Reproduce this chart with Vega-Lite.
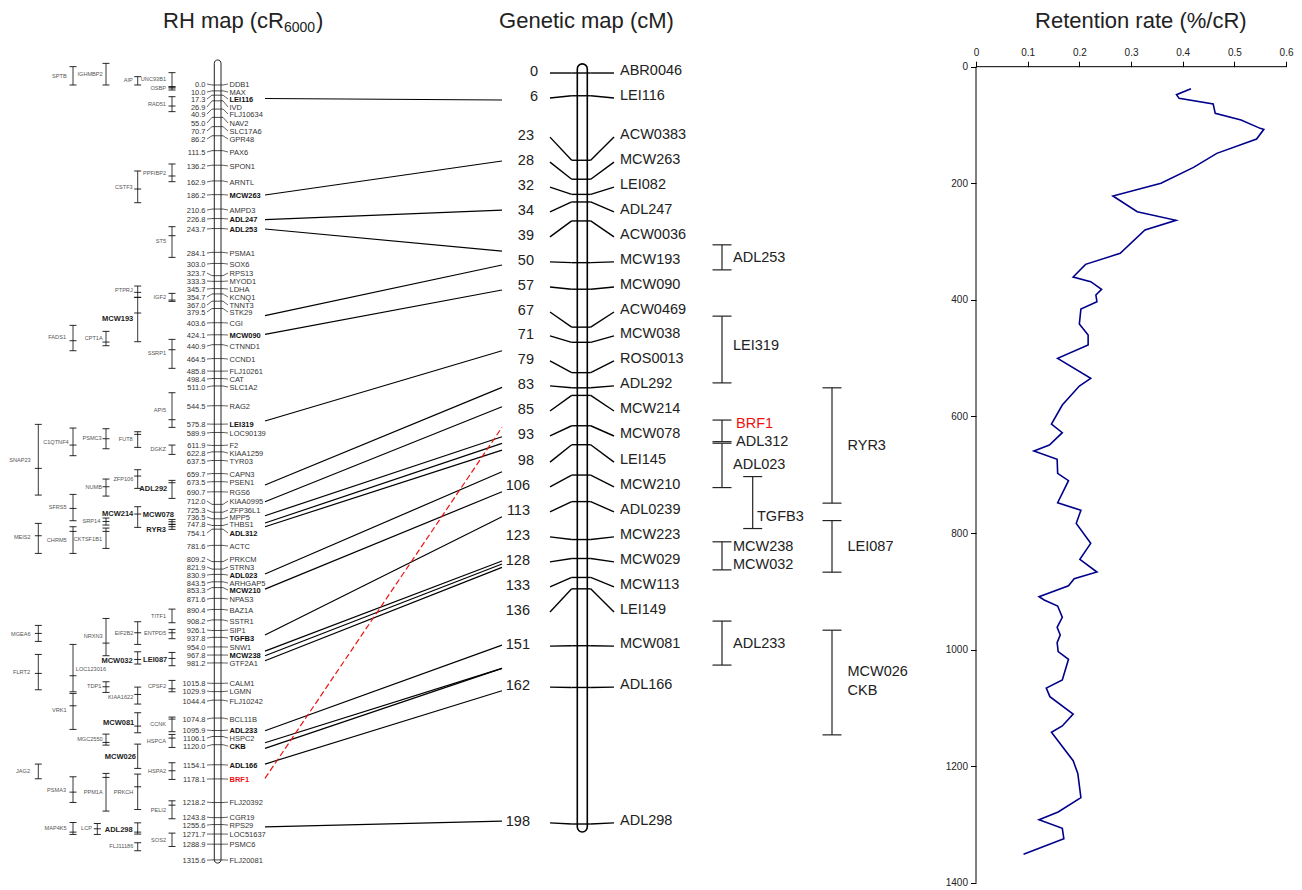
{"$schema":"https://vega.github.io/schema/vega-lite/v6.json","width":1302,"height":890,"padding":0,"autosize":{"type":"none"},"background":"white",
"config":{"view":{"stroke":null},"text":{"font":"Liberation Sans","baseline":"middle"}},
"datasets":{
"rhChromosome":[{"map":"RH","left":214.3,"right":221,"top":-42.5,"bottom":1321}],
"geneticChromosome":[{"map":"Genetic","left":577.3,"right":587.3,"top":-2.4,"bottom":200.1}],
"rhMarkers":[
{"cR":0.0,"name":"DDB1","labelPos":-1.7,"kind":"gene"},{"cR":10.0,"name":"MAX","labelPos":11.9,"kind":"gene"},{"cR":17.3,"name":"LEI116","labelPos":23.8,"kind":"marker"},{"cR":26.9,"name":"IVD","labelPos":37.4,"kind":"gene"},{"cR":40.9,"name":"FLJ10634","labelPos":49.2,"kind":"gene"},{"cR":55.0,"name":"NAV2","labelPos":64.5,"kind":"gene"},{"cR":70.7,"name":"SLC17A6","labelPos":78.1,"kind":"gene"},{"cR":86.2,"name":"GPR48","labelPos":91.7,"kind":"gene"},{"cR":111.5,"name":"PAX6","labelPos":113.8,"kind":"gene"},{"cR":136.2,"name":"SPON1","labelPos":137.5,"kind":"gene"},{"cR":162.9,"name":"ARNTL","labelPos":164.7,"kind":"gene"},{"cR":186.2,"name":"MCW263","labelPos":186.8,"kind":"marker"},{"cR":210.6,"name":"AMPD3","labelPos":212.3,"kind":"gene"},{"cR":226.8,"name":"ADL247","labelPos":227.5,"kind":"marker"},{"cR":243.7,"name":"ADL253","labelPos":244.5,"kind":"marker"},{"cR":284.1,"name":"PSMA1","labelPos":285.3,"kind":"gene"},{"cR":303.0,"name":"SOX6","labelPos":304,"kind":"gene"},{"cR":323.7,"name":"RPS13","labelPos":319.2,"kind":"gene"},{"cR":333.3,"name":"MYOD1","labelPos":332.8,"kind":"gene"},{"cR":345.7,"name":"LDHA","labelPos":346.4,"kind":"gene"},{"cR":354.7,"name":"KCNQ1","labelPos":360,"kind":"gene"},{"cR":367.0,"name":"TNNT3","labelPos":373.6,"kind":"gene"},{"cR":379.5,"name":"STK29","labelPos":385.4,"kind":"gene"},{"cR":403.6,"name":"CGI","labelPos":404.1,"kind":"gene"},{"cR":424.1,"name":"MCW090","labelPos":424.5,"kind":"marker"},{"cR":440.9,"name":"CTNND1","labelPos":443.2,"kind":"gene"},{"cR":464.5,"name":"CCND1","labelPos":465.3,"kind":"gene"},{"cR":485.8,"name":"FLJ10261","labelPos":485.6,"kind":"gene"},{"cR":498.4,"name":"CAT","labelPos":499.2,"kind":"gene"},{"cR":511.0,"name":"SLC1A2","labelPos":512.8,"kind":"gene"},{"cR":544.5,"name":"RAG2","labelPos":545,"kind":"gene"},{"cR":575.8,"name":"LEI319","labelPos":575.6,"kind":"marker"},{"cR":589.9,"name":"LOC90139","labelPos":590.9,"kind":"gene"},{"cR":611.9,"name":"F2","labelPos":611.3,"kind":"gene"},{"cR":622.8,"name":"KIAA1259","labelPos":624.9,"kind":"gene"},{"cR":637.5,"name":"TYR03","labelPos":638.4,"kind":"gene"},{"cR":659.7,"name":"CAPN3","labelPos":660.5,"kind":"gene"},{"cR":673.5,"name":"PSEN1","labelPos":674.1,"kind":"gene"},{"cR":690.7,"name":"RGS6","labelPos":691.1,"kind":"gene"},{"cR":712.0,"name":"KIAA0995","labelPos":706.4,"kind":"gene"},{"cR":725.3,"name":"ZFP36L1","labelPos":721.7,"kind":"gene"},{"cR":736.5,"name":"MPP5","labelPos":733.5,"kind":"gene"},{"cR":747.8,"name":"THBS1","labelPos":745.4,"kind":"gene"},{"cR":754.1,"name":"ADL312","labelPos":760.7,"kind":"marker"},{"cR":781.6,"name":"ACTC","labelPos":782.8,"kind":"gene"},{"cR":809.2,"name":"PRKCM","labelPos":804.9,"kind":"gene"},{"cR":821.9,"name":"STRN3","labelPos":818.4,"kind":"gene"},{"cR":830.9,"name":"ADL023","labelPos":832,"kind":"marker"},{"cR":843.5,"name":"ARHGAP5","labelPos":845.6,"kind":"gene"},{"cR":853.3,"name":"MCW210","labelPos":857.5,"kind":"marker"},{"cR":871.6,"name":"NPAS3","labelPos":872.8,"kind":"gene"},{"cR":890.4,"name":"BAZ1A","labelPos":891.5,"kind":"gene"},{"cR":908.2,"name":"SSTR1","labelPos":910.1,"kind":"gene"},{"cR":926.1,"name":"SIP1","labelPos":925.4,"kind":"gene"},{"cR":937.8,"name":"TGFB3","labelPos":939,"kind":"marker"},{"cR":954.0,"name":"SNW1","labelPos":954.3,"kind":"gene"},{"cR":967.8,"name":"MCW238","labelPos":967.9,"kind":"marker"},{"cR":981.2,"name":"GTF2A1","labelPos":981.4,"kind":"gene"},{"cR":1015.8,"name":"CALM1","labelPos":1015.4,"kind":"gene"},{"cR":1029.9,"name":"LGMN","labelPos":1029,"kind":"gene"},{"cR":1044.4,"name":"FLJ10242","labelPos":1046,"kind":"gene"},{"cR":1074.8,"name":"BCL11B","labelPos":1076.5,"kind":"gene"},{"cR":1095.9,"name":"ADL233","labelPos":1095.2,"kind":"marker"},{"cR":1106.1,"name":"HSPC2","labelPos":1108.8,"kind":"gene"},{"cR":1120.0,"name":"CKB","labelPos":1122.4,"kind":"marker"},{"cR":1154.1,"name":"ADL166","labelPos":1154.6,"kind":"marker"},{"cR":1178.1,"name":"BRF1","labelPos":1178.4,"kind":"candidate"},{"cR":1218.2,"name":"FLJ20392","labelPos":1217.5,"kind":"gene"},{"cR":1243.8,"name":"CGR19","labelPos":1243,"kind":"gene"},{"cR":1255.6,"name":"RPS29","labelPos":1256.5,"kind":"gene"},{"cR":1271.7,"name":"LOC51637","labelPos":1271.8,"kind":"gene"},{"cR":1288.9,"name":"PSMC6","labelPos":1288.8,"kind":"gene"},{"cR":1315.6,"name":"FLJ20081","labelPos":1316,"kind":"gene"}],
"rhGenes":[
{"gene":"SPTB","track":73,"start":-31.1,"end":0,"labelAt":66.7,"labelPos":-15.3,"kind":"gene"},
{"gene":"IGHMBP2","track":106,"start":-36.8,"end":0,"labelAt":102.7,"labelPos":-18.7,"kind":"gene"},
{"gene":"AIP","track":137.7,"start":-14.1,"end":0,"labelAt":132.7,"labelPos":-8.5,"kind":"gene"},
{"gene":"UNC93B1","track":172,"start":-20.9,"end":3.4,"labelAt":166,"labelPos":-10.2,"kind":"gene"},
{"gene":"OSBP","track":172,"start":2.9,"mid":5.1,"end":8.5,"labelAt":166,"labelPos":5.1,"kind":"gene"},
{"gene":"RAD51","track":172,"start":19.9,"mid":35.7,"end":45.3,"labelAt":166,"labelPos":31.8,"kind":"gene"},
{"gene":"PPFIBP2","track":172,"start":134.1,"mid":154.5,"end":164.2,"labelAt":166,"labelPos":148.9,"kind":"gene"},
{"gene":"CSTF3","track":137.7,"start":146,"mid":176.6,"end":199.9,"labelAt":132.7,"labelPos":173.2,"kind":"gene"},
{"gene":"ST5","track":172,"start":240.6,"mid":255.9,"end":292.6,"labelAt":166,"labelPos":264.9,"kind":"gene"},
{"gene":"PTPRJ","track":137.7,"start":341.3,"mid":352,"end":360.5,"labelAt":132.7,"labelPos":348.1,"kind":"gene"},
{"gene":"MCW193","track":137.7,"start":360.5,"mid":387.1,"end":435.9,"labelAt":133.3,"labelPos":397.8,"kind":"marker"},
{"gene":"IGF2","track":172,"start":353.7,"mid":365.1,"end":367.3,"labelAt":166,"labelPos":360,"kind":"gene"},
{"gene":"FADS1","track":73,"start":408,"mid":434.2,"end":451.2,"labelAt":66,"labelPos":427.9,"kind":"gene"},
{"gene":"CPT1A","track":106,"start":418.2,"mid":436.4,"end":442.7,"labelAt":102.7,"labelPos":429.6,"kind":"gene"},
{"gene":"SSRP1","track":172,"start":431.8,"mid":449.5,"end":481,"labelAt":166,"labelPos":455,"kind":"gene"},
{"gene":"API5","track":172,"start":522.5,"mid":568.3,"end":581.2,"labelAt":166,"labelPos":551.9,"kind":"gene"},
{"gene":"SNAP23","track":38.3,"start":576.1,"mid":650.8,"end":696.2,"labelAt":30.7,"labelPos":636.8,"kind":"gene"},
{"gene":"C1QTNF4","track":73,"start":582.4,"mid":611.3,"end":629.4,"labelAt":68.7,"labelPos":606.2,"kind":"gene"},
{"gene":"PSMC3","track":106,"start":583.6,"mid":600.6,"end":617.6,"labelAt":101.7,"labelPos":599.4,"kind":"gene"},
{"gene":"FUT8","track":137.7,"start":588.7,"mid":593.1,"end":615.2,"labelAt":132.7,"labelPos":601.1,"kind":"gene"},
{"gene":"DGKZ","track":172,"start":611.3,"end":627.1,"labelAt":166,"labelPos":618.1,"kind":"gene"},
{"gene":"ZFP106","track":137.7,"start":653.2,"mid":663.9,"end":684.8,"labelAt":133.3,"labelPos":669,"kind":"gene"},
{"gene":"NUMB","track":106,"start":669,"mid":682.1,"end":697.9,"labelAt":102,"labelPos":682.6,"kind":"gene"},
{"gene":"ADL292","track":172,"start":671.2,"mid":675.3,"end":701.8,"labelAt":167.3,"labelPos":686.5,"kind":"marker"},
{"gene":"SFRS5","track":73,"start":695,"mid":718.8,"end":739.8,"labelAt":66.7,"labelPos":716.6,"kind":"gene"},
{"gene":"MCW214","track":137.7,"start":716,"mid":728.4,"end":751,"labelAt":133.3,"labelPos":727.9,"kind":"marker"},
{"gene":"MCW078","track":172,"start":737.5,"mid":741.5,"end":745.9,"labelAt":174,"labelPos":730.6,"kind":"marker"},
{"gene":"RYR3","track":172,"start":745.9,"mid":750,"end":754.4,"labelAt":166,"labelPos":756.1,"kind":"marker"},
{"gene":"SRP14","track":106,"start":735.2,"mid":740.9,"end":747.1,"labelAt":100.3,"labelPos":739.8,"kind":"gene"},
{"gene":"CKTSF1B1","track":106,"start":752.2,"mid":757.8,"end":786.7,"labelAt":102,"labelPos":770.9,"kind":"gene"},
{"gene":"MEIS2","track":38.3,"start":744.2,"mid":765.3,"end":795.2,"labelAt":30.7,"labelPos":767.5,"kind":"gene"},
{"gene":"CHRM5","track":73,"start":750,"mid":757.8,"end":795.2,"labelAt":66.7,"labelPos":772.6,"kind":"gene"},
{"gene":"MGEA6","track":38.3,"start":917.4,"mid":931,"end":944.6,"labelAt":30.7,"labelPos":932.2,"kind":"gene"},
{"gene":"TITF1","track":172,"start":889.8,"end":913,"labelAt":166,"labelPos":901.6,"kind":"gene"},
{"gene":"NRXN3","track":106,"start":905.6,"mid":947.5,"end":969,"labelAt":102.7,"labelPos":935.6,"kind":"gene"},
{"gene":"EIF2B2","track":137.7,"start":911.3,"mid":930,"end":949.7,"labelAt":133.3,"labelPos":930,"kind":"gene"},
{"gene":"ENTPD5","track":172,"start":924.2,"mid":930,"end":940.1,"labelAt":166,"labelPos":930.5,"kind":"gene"},
{"gene":"MCW032","track":137.7,"start":962.3,"mid":975.2,"end":983.1,"labelAt":132.7,"labelPos":978.6,"kind":"marker"},
{"gene":"LEI087","track":172,"start":963.3,"mid":973.5,"end":986,"labelAt":167.3,"labelPos":976.9,"kind":"marker"},
{"gene":"LOC123016","track":73,"start":949.7,"mid":1003,"end":1030.2,"labelAt":106,"labelPos":991.6,"kind":"gene"},
{"gene":"VRK1","track":73,"start":1032.9,"mid":1054,"end":1094,"labelAt":66.7,"labelPos":1061.3,"kind":"gene"},
{"gene":"FLRT2","track":38.3,"start":966.7,"mid":998.9,"end":1026.8,"labelAt":30,"labelPos":996.7,"kind":"gene"},
{"gene":"TDP1","track":106,"start":1013.2,"mid":1021.7,"end":1031.2,"labelAt":101.3,"labelPos":1020.5,"kind":"gene"},
{"gene":"CPSF2","track":172,"start":1010.8,"mid":1025.1,"end":1030.2,"labelAt":166,"labelPos":1020.5,"kind":"gene"},
{"gene":"KIAA1622","track":137.7,"start":1022.2,"mid":1034.6,"end":1051,"labelAt":133.3,"labelPos":1039.2,"kind":"gene"},
{"gene":"MCW081","track":137.7,"start":1065.8,"mid":1088.4,"end":1099.8,"labelAt":134.3,"labelPos":1083.8,"kind":"marker"},
{"gene":"CCNK","track":172,"start":1073.1,"mid":1076.5,"end":1098,"labelAt":166,"labelPos":1085,"kind":"gene"},
{"gene":"MGC2550","track":106,"start":1102,"mid":1116.1,"end":1120.7,"labelAt":102.7,"labelPos":1110.5,"kind":"gene"},
{"gene":"HSPCA","track":172,"start":1102.5,"mid":1108.8,"end":1124.6,"labelAt":166,"labelPos":1113.9,"kind":"gene"},
{"gene":"MCW026","track":137.7,"start":1119,"end":1160.2,"labelAt":136,"labelPos":1141.5,"kind":"marker"},
{"gene":"HSPA2","track":172,"start":1150.7,"mid":1164.3,"end":1178.9,"labelAt":166,"labelPos":1164.8,"kind":"gene"},
{"gene":"JAG2","track":38.3,"start":1152.9,"end":1177.9,"labelAt":30,"labelPos":1164.8,"kind":"gene"},
{"gene":"PSMA3","track":73,"start":1174.5,"mid":1200.5,"end":1218,"labelAt":66,"labelPos":1197.1,"kind":"gene"},
{"gene":"PPM1A","track":106,"start":1168.7,"mid":1175.5,"end":1232.7,"labelAt":102.7,"labelPos":1200.5,"kind":"gene"},
{"gene":"PRKCH","track":137.7,"start":1169.9,"mid":1191.5,"end":1229.9,"labelAt":133.3,"labelPos":1200.5,"kind":"gene"},
{"gene":"PELI2","track":172,"start":1215.3,"mid":1222.6,"end":1245.8,"labelAt":166,"labelPos":1231.1,"kind":"gene"},
{"gene":"MAP4K5","track":73,"start":1252,"mid":1268.4,"end":1272.3,"labelAt":66.7,"labelPos":1261.6,"kind":"gene"},
{"gene":"LCP","track":97.3,"start":1253.7,"mid":1262.8,"end":1272.3,"labelAt":92,"labelPos":1261.6,"kind":"gene"},
{"gene":"ADL298","track":137.7,"start":1252.7,"mid":1268.4,"end":1271.8,"labelAt":132.7,"labelPos":1264.5,"kind":"marker"},
{"gene":"FLJ11186","track":137.7,"start":1286.5,"end":1300.1,"labelAt":133.3,"labelPos":1292.2,"kind":"gene"},
{"gene":"SOS2","track":172,"start":1270.1,"end":1292.7,"labelAt":166,"labelPos":1282.5,"kind":"gene"}],
"connectors":[
{"marker":"LEI116","from":22.9,"to":25.5},{"marker":"MCW263","from":186.8,"to":129},{"marker":"ADL247","from":228.4,"to":212.3},{"marker":"ADL253","from":244.5,"to":281.9},{"marker":"MCW193","from":391.7,"to":305.6},{"marker":"MCW090","from":423.3,"to":348.1},{"marker":"LEI319","from":570.5,"to":451.2},{"marker":"ADL292","from":679.2,"to":513.3},{"marker":"MCW214","from":707.6,"to":546.2},{"marker":"MCW078","from":731.3,"to":597.2},{"marker":"RYR3","from":743.7,"to":608.4},{"marker":"ADL312","from":750,"to":619.8},{"marker":"ADL023","from":830.3,"to":656.6},{"marker":"MCW210","from":855.8,"to":690.6},{"marker":"TGFB3","from":933.9,"to":733},{"marker":"MCW032","from":961.1,"to":808.2},{"marker":"LEI087","from":969,"to":813.3},{"marker":"MCW238","from":977.5,"to":818.9},{"marker":"ADL233","from":1096.4,"to":950.9},{"marker":"MCW026","from":1116.7,"to":990.4},{"marker":"CKB","from":1126.3,"to":990.4},{"marker":"ADL166","from":1152.9,"to":1028.5},{"marker":"ADL298","from":1259.4,"to":1249.7}],
"candidate":[{"marker":"BRF1","from":1177.2,"to":581.2}],
"rhTitle":[{"text":"RH map (cR","at":163},{"text":")","at":316}],
"rhSubscript":[{"text":"6000","at":284}],
"geneticTitle":[{"text":"Genetic map (cM)","at":586.5}],
"retentionTitle":[{"text":"Retention rate (%/cR)","rate":0.319}],
"geneticMarkers":[
{"cM":0,"name":"ABR0046","labelPos":0},{"cM":6,"name":"LEI116","labelPos":6.6},{"cM":23,"name":"ACW0383","labelPos":16.9},{"cM":28,"name":"MCW263","labelPos":23.5},{"cM":32,"name":"LEI082","labelPos":30.1},{"cM":34,"name":"ADL247","labelPos":36.6},{"cM":39,"name":"ACW0036","labelPos":43.2},{"cM":50,"name":"MCW193","labelPos":49.8},{"cM":57,"name":"MCW090","labelPos":56.4},{"cM":67,"name":"ACW0469","labelPos":63},{"cM":71,"name":"MCW038","labelPos":69.3},{"cM":79,"name":"ROS0013","labelPos":75.9},{"cM":83,"name":"ADL292","labelPos":82.5},{"cM":85,"name":"MCW214","labelPos":89.1},{"cM":93,"name":"MCW078","labelPos":95.7},{"cM":98,"name":"LEI145","labelPos":102.6},{"cM":106,"name":"MCW210","labelPos":109.1},{"cM":113,"name":"ADL0239","labelPos":115.7},{"cM":123,"name":"MCW223","labelPos":122.3},{"cM":128,"name":"MCW029","labelPos":128.9},{"cM":133,"name":"MCW113","labelPos":135.5},{"cM":136,"name":"LEI149","labelPos":142.1},{"cM":151,"name":"MCW081","labelPos":151.1},{"cM":162,"name":"ADL166","labelPos":161.9},{"cM":198,"name":"ADL298","labelPos":197.7}],
"brackets":[
{"group":"ADL253","track":722,"start":45.3,"end":51.9},{"group":"LEI319","track":722,"start":64.1,"end":81.7},{"group":"BRF1","track":722,"start":91.5,"end":97.2},{"group":"ADL312-ADL023","track":722,"start":97.6,"end":109.3},{"group":"TGFB3","track":752.7,"start":106.4,"end":120.1},{"group":"RYR3","track":832,"start":83,"end":113.4},{"group":"LEI087","track":832,"start":118,"end":131.6},{"group":"MCW238-MCW032","track":722,"start":123.6,"end":131},{"group":"ADL233","track":722,"start":144.5,"end":156.1},{"group":"MCW026-CKB","track":832,"start":146.9,"end":174.5}],
"bracketLabels":[
{"name":"ADL253","at":733,"pos":48.5,"kind":"qtl"},{"name":"LEI319","at":733,"pos":71.7,"kind":"qtl"},{"name":"BRF1","at":736,"pos":92.2,"kind":"candidate"},{"name":"ADL312","at":736,"pos":97,"kind":"qtl"},{"name":"ADL023","at":733,"pos":103.1,"kind":"qtl"},{"name":"TGFB3","at":757,"pos":116.7,"kind":"qtl"},{"name":"RYR3","at":847.5,"pos":98.1,"kind":"qtl"},{"name":"LEI087","at":847.5,"pos":124.7,"kind":"qtl"},{"name":"MCW238","at":733,"pos":124.7,"kind":"qtl"},{"name":"MCW032","at":733,"pos":129.5,"kind":"qtl"},{"name":"ADL233","at":733,"pos":150.3,"kind":"qtl"},{"name":"MCW026","at":847.5,"pos":157.7,"kind":"qtl"},{"name":"CKB","at":847.5,"pos":162.7,"kind":"qtl"}],
"retention":[
{"rate":0.416,"cR":37.7},{"rate":0.388,"cR":48},{"rate":0.393,"cR":54.3},{"rate":0.459,"cR":64},{"rate":0.463,"cR":80.1},{"rate":0.513,"cR":91.5},{"rate":0.55,"cR":105.8},{"rate":0.557,"cR":107.5},{"rate":0.543,"cR":124.1},{"rate":0.466,"cR":148.7},{"rate":0.421,"cR":172.7},{"rate":0.358,"cR":200.1},{"rate":0.265,"cR":221.9},{"rate":0.312,"cR":248.8},{"rate":0.387,"cR":263.6},{"rate":0.327,"cR":280.2},{"rate":0.279,"cR":320.2},{"rate":0.212,"cR":339.1},{"rate":0.188,"cR":360.8},{"rate":0.222,"cR":368.8},{"rate":0.243,"cR":382},{"rate":0.232,"cR":391.7},{"rate":0.234,"cR":403.2},{"rate":0.203,"cR":415.7},{"rate":0.2,"cR":441.5},{"rate":0.217,"cR":460.3},{"rate":0.217,"cR":477.5},{"rate":0.158,"cR":500.4},{"rate":0.222,"cR":534.7},{"rate":0.2,"cR":547.8},{"rate":0.167,"cR":580.4},{"rate":0.146,"cR":613},{"rate":0.167,"cR":627.9},{"rate":0.142,"cR":649},{"rate":0.112,"cR":659.3},{"rate":0.157,"cR":673.6},{"rate":0.158,"cR":697.6},{"rate":0.179,"cR":710.2},{"rate":0.158,"cR":748},{"rate":0.203,"cR":761.1},{"rate":0.194,"cR":783.4},{"rate":0.222,"cR":817.7},{"rate":0.201,"cR":845.2},{"rate":0.234,"cR":866.9},{"rate":0.19,"cR":878.4},{"rate":0.179,"cR":890.4},{"rate":0.122,"cR":909.2},{"rate":0.132,"cR":914.9},{"rate":0.158,"cR":925.2},{"rate":0.167,"cR":944.6},{"rate":0.157,"cR":961.8},{"rate":0.163,"cR":975},{"rate":0.157,"cR":988.1},{"rate":0.159,"cR":1003.5},{"rate":0.179,"cR":1016.7},{"rate":0.167,"cR":1052.1},{"rate":0.136,"cR":1065.9},{"rate":0.143,"cR":1080.7},{"rate":0.188,"cR":1110.5},{"rate":0.167,"cR":1131},{"rate":0.146,"cR":1141.9},{"rate":0.188,"cR":1190.5},{"rate":0.197,"cR":1212.3},{"rate":0.203,"cR":1254},{"rate":0.159,"cR":1278.6},{"rate":0.122,"cR":1291.7},{"rate":0.167,"cR":1306.6},{"rate":0.17,"cR":1324.4},{"rate":0.092,"cR":1351.2}]
},
"resolve":{"scale":{"x":"independent","y":"independent"}},
"layer":[
{"layer":[
{"data":{"name":"connectors"},"mark":{"type":"rule","stroke":"#000","strokeWidth":1.2},"encoding":{"x":{"datum":265,"type":"quantitative","scale":{"domain":[0,1302],"nice":false,"zero":false},"axis":null},"x2":{"datum":502},"y":{"field":"from","type":"quantitative","scale":{"domain":[-144.3,1366.7],"reverse":true,"nice":false,"zero":false},"axis":null},"y2":{"field":"to"}}},
{"data":{"name":"candidate"},"mark":{"type":"rule","stroke":"#ee1111","strokeWidth":1.2,"strokeDash":[6,3]},"encoding":{"x":{"datum":265,"type":"quantitative","scale":{"domain":[0,1302],"nice":false,"zero":false},"axis":null},"x2":{"datum":502},"y":{"field":"from","type":"quantitative","scale":{"domain":[-144.3,1366.7],"reverse":true,"nice":false,"zero":false},"axis":null},"y2":{"field":"to"}}},
{"data":{"name":"rhChromosome"},"mark":{"type":"rect","fill":"transparent","stroke":"#222","strokeWidth":1,"cornerRadius":3.3},"encoding":{"x":{"field":"left","type":"quantitative","scale":{"domain":[0,1302],"nice":false,"zero":false},"axis":null},"x2":{"field":"right"},"y":{"field":"top","type":"quantitative","scale":{"domain":[-144.3,1366.7],"reverse":true,"nice":false,"zero":false},"axis":null},"y2":{"field":"bottom"}}},
{"data":{"name":"rhMarkers"},"mark":{"type":"rule","stroke":"#222","strokeWidth":0.8},"encoding":{"x":{"datum":212,"type":"quantitative","scale":{"domain":[0,1302],"nice":false,"zero":false},"axis":null},"x2":{"datum":223},"y":{"field":"cR","type":"quantitative","scale":{"domain":[-144.3,1366.7],"reverse":true,"nice":false,"zero":false},"axis":null}}},
{"data":{"name":"rhMarkers"},"mark":{"type":"rule","stroke":"#222","strokeWidth":0.7},"encoding":{"x":{"datum":207,"type":"quantitative","scale":{"domain":[0,1302],"nice":false,"zero":false},"axis":null},"x2":{"datum":212},"y":{"field":"labelPos","type":"quantitative","scale":{"domain":[-144.3,1366.7],"reverse":true,"nice":false,"zero":false},"axis":null},"y2":{"field":"cR"}}},
{"data":{"name":"rhMarkers"},"mark":{"type":"rule","stroke":"#222","strokeWidth":0.7},"encoding":{"x":{"datum":223,"type":"quantitative","scale":{"domain":[0,1302],"nice":false,"zero":false},"axis":null},"x2":{"datum":228},"y":{"field":"cR","type":"quantitative","scale":{"domain":[-144.3,1366.7],"reverse":true,"nice":false,"zero":false},"axis":null},"y2":{"field":"labelPos"}}},
{"data":{"name":"rhMarkers"},"mark":{"type":"text","align":"right","fontSize":7.5,"dy":1,"fill":"#333"},"encoding":{"x":{"datum":205.5,"type":"quantitative","scale":{"domain":[0,1302],"nice":false,"zero":false},"axis":null},"y":{"field":"labelPos","type":"quantitative","scale":{"domain":[-144.3,1366.7],"reverse":true,"nice":false,"zero":false},"axis":null},"text":{"field":"cR","type":"quantitative","format":".1f"}}},
{"data":{"name":"rhMarkers"},"transform":[{"filter":"datum.kind==='gene'"}],"mark":{"type":"text","align":"left","fontSize":7.5,"dy":1,"fill":"#333"},"encoding":{"x":{"datum":229.5,"type":"quantitative","scale":{"domain":[0,1302],"nice":false,"zero":false},"axis":null},"y":{"field":"labelPos","type":"quantitative","scale":{"domain":[-144.3,1366.7],"reverse":true,"nice":false,"zero":false},"axis":null},"text":{"field":"name"}}},
{"data":{"name":"rhMarkers"},"transform":[{"filter":"datum.kind==='marker'"}],"mark":{"type":"text","align":"left","fontSize":7.5,"dy":1,"fontWeight":"bold","fill":"#111"},"encoding":{"x":{"datum":229.5,"type":"quantitative","scale":{"domain":[0,1302],"nice":false,"zero":false},"axis":null},"y":{"field":"labelPos","type":"quantitative","scale":{"domain":[-144.3,1366.7],"reverse":true,"nice":false,"zero":false},"axis":null},"text":{"field":"name"}}},
{"data":{"name":"rhMarkers"},"transform":[{"filter":"datum.kind==='candidate'"}],"mark":{"type":"text","align":"left","fontSize":7.5,"dy":1,"fontWeight":"bold","fill":"#ee1111"},"encoding":{"x":{"datum":229.5,"type":"quantitative","scale":{"domain":[0,1302],"nice":false,"zero":false},"axis":null},"y":{"field":"labelPos","type":"quantitative","scale":{"domain":[-144.3,1366.7],"reverse":true,"nice":false,"zero":false},"axis":null},"text":{"field":"name"}}},
{"data":{"name":"rhGenes"},"mark":{"type":"rule","stroke":"#222","strokeWidth":0.9},"encoding":{"x":{"field":"track","type":"quantitative","scale":{"domain":[0,1302],"nice":false,"zero":false},"axis":null},"y":{"field":"start","type":"quantitative","scale":{"domain":[-144.3,1366.7],"reverse":true,"nice":false,"zero":false},"axis":null},"y2":{"field":"end"}}},
{"data":{"name":"rhGenes"},"mark":{"type":"tick","orient":"horizontal","size":7,"thickness":0.9,"color":"#111","opacity":1},"encoding":{"x":{"field":"track","type":"quantitative","scale":{"domain":[0,1302],"nice":false,"zero":false},"axis":null},"y":{"field":"start","type":"quantitative","scale":{"domain":[-144.3,1366.7],"reverse":true,"nice":false,"zero":false},"axis":null}}},
{"data":{"name":"rhGenes"},"mark":{"type":"tick","orient":"horizontal","size":7,"thickness":0.9,"color":"#111","opacity":1},"encoding":{"x":{"field":"track","type":"quantitative","scale":{"domain":[0,1302],"nice":false,"zero":false},"axis":null},"y":{"field":"end","type":"quantitative","scale":{"domain":[-144.3,1366.7],"reverse":true,"nice":false,"zero":false},"axis":null}}},
{"data":{"name":"rhGenes"},"transform":[{"filter":"isValid(datum.mid)"}],"mark":{"type":"tick","orient":"horizontal","size":7,"thickness":0.9,"color":"#111","opacity":1},"encoding":{"x":{"field":"track","type":"quantitative","scale":{"domain":[0,1302],"nice":false,"zero":false},"axis":null},"y":{"field":"mid","type":"quantitative","scale":{"domain":[-144.3,1366.7],"reverse":true,"nice":false,"zero":false},"axis":null}}},
{"data":{"name":"rhGenes"},"transform":[{"filter":"datum.kind==='gene'"}],"mark":{"type":"text","align":"right","fontSize":5.6,"fill":"#555"},"encoding":{"x":{"field":"labelAt","type":"quantitative","scale":{"domain":[0,1302],"nice":false,"zero":false},"axis":null},"y":{"field":"labelPos","type":"quantitative","scale":{"domain":[-144.3,1366.7],"reverse":true,"nice":false,"zero":false},"axis":null},"text":{"field":"gene"}}},
{"data":{"name":"rhGenes"},"transform":[{"filter":"datum.kind==='marker'"}],"mark":{"type":"text","align":"right","fontSize":7.5,"fontWeight":"bold","fill":"#222"},"encoding":{"x":{"field":"labelAt","type":"quantitative","scale":{"domain":[0,1302],"nice":false,"zero":false},"axis":null},"y":{"field":"labelPos","type":"quantitative","scale":{"domain":[-144.3,1366.7],"reverse":true,"nice":false,"zero":false},"axis":null},"text":{"field":"gene"}}},
{"data":{"name":"rhTitle"},"mark":{"type":"text","align":"left","fontSize":22,"fill":"#222"},"encoding":{"x":{"field":"at","type":"quantitative","scale":{"domain":[0,1302],"nice":false,"zero":false},"axis":null},"y":{"datum":-108.7,"type":"quantitative","scale":{"domain":[-144.3,1366.7],"reverse":true,"nice":false,"zero":false},"axis":null},"text":{"field":"text"}}},
{"data":{"name":"rhSubscript"},"mark":{"type":"text","align":"left","fontSize":14,"fill":"#222"},"encoding":{"x":{"field":"at","type":"quantitative","scale":{"domain":[0,1302],"nice":false,"zero":false},"axis":null},"y":{"datum":-96.8,"type":"quantitative","scale":{"domain":[-144.3,1366.7],"reverse":true,"nice":false,"zero":false},"axis":null},"text":{"field":"text"}}}
]},
{"layer":[
{"data":{"name":"geneticChromosome"},"mark":{"type":"rect","fill":"transparent","stroke":"#000","strokeWidth":1.6,"cornerRadius":5},"encoding":{"x":{"field":"left","type":"quantitative","scale":{"domain":[0,1302],"nice":false,"zero":false},"axis":null},"x2":{"field":"right"},"y":{"field":"top","type":"quantitative","scale":{"domain":[-19.25,215.4],"reverse":true,"nice":false,"zero":false},"axis":null},"y2":{"field":"bottom"}}},
{"data":{"name":"geneticMarkers"},"mark":{"type":"rule","stroke":"#000","strokeWidth":1.4},"encoding":{"x":{"datum":571.7,"type":"quantitative","scale":{"domain":[0,1302],"nice":false,"zero":false},"axis":null},"x2":{"datum":590.7},"y":{"field":"cM","type":"quantitative","scale":{"domain":[-19.25,215.4],"reverse":true,"nice":false,"zero":false},"axis":null}}},
{"data":{"name":"geneticMarkers"},"mark":{"type":"rule","stroke":"#000","strokeWidth":1.4},"encoding":{"x":{"datum":550,"type":"quantitative","scale":{"domain":[0,1302],"nice":false,"zero":false},"axis":null},"x2":{"datum":571.7},"y":{"field":"labelPos","type":"quantitative","scale":{"domain":[-19.25,215.4],"reverse":true,"nice":false,"zero":false},"axis":null},"y2":{"field":"cM"}}},
{"data":{"name":"geneticMarkers"},"mark":{"type":"rule","stroke":"#000","strokeWidth":1.4},"encoding":{"x":{"datum":590.7,"type":"quantitative","scale":{"domain":[0,1302],"nice":false,"zero":false},"axis":null},"x2":{"datum":614},"y":{"field":"cM","type":"quantitative","scale":{"domain":[-19.25,215.4],"reverse":true,"nice":false,"zero":false},"axis":null},"y2":{"field":"labelPos"}}},
{"data":{"name":"geneticMarkers"},"transform":[{"filter":"datum.cM<10"}],"mark":{"type":"text","align":"right","fontSize":14.5,"dy":-1,"fill":"#222"},"encoding":{"x":{"datum":538,"type":"quantitative","scale":{"domain":[0,1302],"nice":false,"zero":false},"axis":null},"y":{"field":"labelPos","type":"quantitative","scale":{"domain":[-19.25,215.4],"reverse":true,"nice":false,"zero":false},"axis":null},"text":{"field":"cM"}}},
{"data":{"name":"geneticMarkers"},"transform":[{"filter":"datum.cM>=10 && datum.cM<100"}],"mark":{"type":"text","align":"right","fontSize":14.5,"dy":-1,"fill":"#222"},"encoding":{"x":{"datum":534,"type":"quantitative","scale":{"domain":[0,1302],"nice":false,"zero":false},"axis":null},"y":{"field":"labelPos","type":"quantitative","scale":{"domain":[-19.25,215.4],"reverse":true,"nice":false,"zero":false},"axis":null},"text":{"field":"cM"}}},
{"data":{"name":"geneticMarkers"},"transform":[{"filter":"datum.cM>=100"}],"mark":{"type":"text","align":"right","fontSize":14.5,"dy":-1,"fill":"#222"},"encoding":{"x":{"datum":530,"type":"quantitative","scale":{"domain":[0,1302],"nice":false,"zero":false},"axis":null},"y":{"field":"labelPos","type":"quantitative","scale":{"domain":[-19.25,215.4],"reverse":true,"nice":false,"zero":false},"axis":null},"text":{"field":"cM"}}},
{"data":{"name":"geneticMarkers"},"mark":{"type":"text","align":"left","fontSize":14.5,"dy":-2,"fill":"#222"},"encoding":{"x":{"datum":620,"type":"quantitative","scale":{"domain":[0,1302],"nice":false,"zero":false},"axis":null},"y":{"field":"labelPos","type":"quantitative","scale":{"domain":[-19.25,215.4],"reverse":true,"nice":false,"zero":false},"axis":null},"text":{"field":"name"}}},
{"data":{"name":"brackets"},"mark":{"type":"rule","stroke":"#222","strokeWidth":1.2},"encoding":{"x":{"field":"track","type":"quantitative","scale":{"domain":[0,1302],"nice":false,"zero":false},"axis":null},"y":{"field":"start","type":"quantitative","scale":{"domain":[-19.25,215.4],"reverse":true,"nice":false,"zero":false},"axis":null},"y2":{"field":"end"}}},
{"data":{"name":"brackets"},"mark":{"type":"tick","orient":"horizontal","size":19,"thickness":1.2,"color":"#222","opacity":1},"encoding":{"x":{"field":"track","type":"quantitative","scale":{"domain":[0,1302],"nice":false,"zero":false},"axis":null},"y":{"field":"start","type":"quantitative","scale":{"domain":[-19.25,215.4],"reverse":true,"nice":false,"zero":false},"axis":null}}},
{"data":{"name":"brackets"},"mark":{"type":"tick","orient":"horizontal","size":19,"thickness":1.2,"color":"#222","opacity":1},"encoding":{"x":{"field":"track","type":"quantitative","scale":{"domain":[0,1302],"nice":false,"zero":false},"axis":null},"y":{"field":"end","type":"quantitative","scale":{"domain":[-19.25,215.4],"reverse":true,"nice":false,"zero":false},"axis":null}}},
{"data":{"name":"bracketLabels"},"transform":[{"filter":"datum.kind==='qtl'"}],"mark":{"type":"text","align":"left","fontSize":14.5,"dy":1,"fill":"#222"},"encoding":{"x":{"field":"at","type":"quantitative","scale":{"domain":[0,1302],"nice":false,"zero":false},"axis":null},"y":{"field":"pos","type":"quantitative","scale":{"domain":[-19.25,215.4],"reverse":true,"nice":false,"zero":false},"axis":null},"text":{"field":"name"}}},
{"data":{"name":"bracketLabels"},"transform":[{"filter":"datum.kind==='candidate'"}],"mark":{"type":"text","align":"left","fontSize":14.5,"dy":1,"fill":"#ee1111"},"encoding":{"x":{"field":"at","type":"quantitative","scale":{"domain":[0,1302],"nice":false,"zero":false},"axis":null},"y":{"field":"pos","type":"quantitative","scale":{"domain":[-19.25,215.4],"reverse":true,"nice":false,"zero":false},"axis":null},"text":{"field":"name"}}},
{"data":{"name":"geneticTitle"},"mark":{"type":"text","align":"center","fontSize":22,"fill":"#222"},"encoding":{"x":{"field":"at","type":"quantitative","scale":{"domain":[0,1302],"nice":false,"zero":false},"axis":null},"y":{"datum":-13.7,"type":"quantitative","scale":{"domain":[-19.25,215.4],"reverse":true,"nice":false,"zero":false},"axis":null},"text":{"field":"text"}}}
]},
{"layer":[
{"data":{"name":"retention"},"mark":{"type":"line","stroke":"#00008b","strokeWidth":1.6,"clip":false},"encoding":{"x":{"field":"rate","type":"quantitative","scale":{"domain":[-1.8889,0.6309],"nice":false,"zero":false},"axis":{"orient":"top","offset":-66.7,"values":[0,0.1,0.2,0.3,0.4,0.5,0.6],"format":"~g","domain":false,"grid":false,"title":null,"tickColor":"#000","tickSize":5.5,"labelColor":"#222","labelFont":"Liberation Sans","labelFontSize":10,"labelPadding":4}},"y":{"field":"cR","type":"quantitative","scale":{"domain":[-114.4,1412.4],"reverse":true,"nice":false,"zero":false},"axis":{"orient":"left","offset":-976,"values":[0,200,400,600,800,1000,1200,1400],"format":"d","domain":false,"grid":false,"title":null,"tickColor":"#000","tickSize":5.5,"labelColor":"#222","labelFont":"Liberation Sans","labelFontSize":10,"labelPadding":3}},"order":{"field":"cR"}}},
{"mark":{"type":"rule","stroke":"#000","strokeWidth":1},"data":{"values":[{"axis":"rate"}]},"encoding":{"x":{"datum":0,"type":"quantitative","scale":{"domain":[-1.8889,0.6309],"nice":false,"zero":false}},"x2":{"datum":0.6},"y":{"datum":0,"type":"quantitative","scale":{"domain":[-114.4,1412.4],"reverse":true,"nice":false,"zero":false}}}},
{"mark":{"type":"rule","stroke":"#000","strokeWidth":1},"data":{"values":[{"axis":"position"}]},"encoding":{"x":{"datum":0,"type":"quantitative","scale":{"domain":[-1.8889,0.6309],"nice":false,"zero":false}},"y":{"datum":0,"type":"quantitative","scale":{"domain":[-114.4,1412.4],"reverse":true,"nice":false,"zero":false}},"y2":{"datum":1400}}},
{"data":{"name":"retentionTitle"},"mark":{"type":"text","align":"center","fontSize":22,"fill":"#222"},"encoding":{"x":{"field":"rate","type":"quantitative","scale":{"domain":[-1.8889,0.6309],"nice":false,"zero":false}},"y":{"datum":-78.4,"type":"quantitative","scale":{"domain":[-114.4,1412.4],"reverse":true,"nice":false,"zero":false}},"text":{"field":"text"}}}
]}
]}
